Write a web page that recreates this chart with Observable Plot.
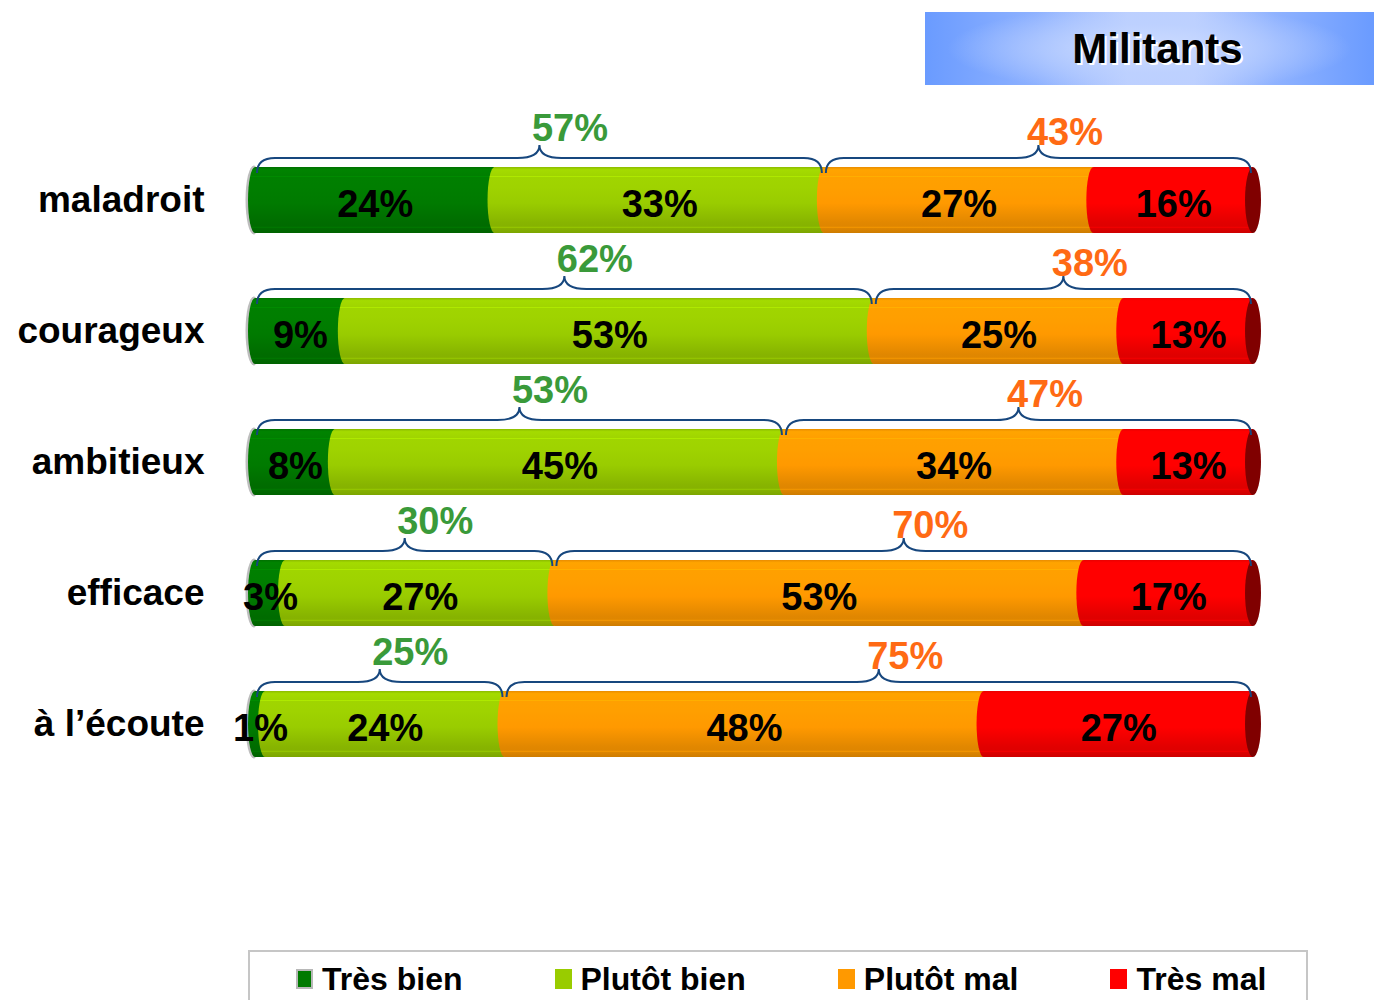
<!DOCTYPE html>
<html>
<head>
<meta charset="utf-8">
<script src="https://cdn.jsdelivr.net/npm/d3@7"></script>
<script src="https://cdn.jsdelivr.net/npm/@observablehq/plot@0.6"></script>
<style>
  html, body { margin: 0; padding: 0; background: #fff; }
  body { width: 1374px; height: 1000px; overflow: hidden; font-family: "Liberation Sans", Arial, sans-serif; }
  #title { position: relative; height: 95px; }
  #title .box {
    position: absolute; left: 925px; top: 12px; width: 449px; height: 73px;
    background:
      radial-gradient(ellipse 45% 60% at 50% 50%, rgba(205,220,255,0.95) 0%, rgba(190,210,255,0.6) 55%, rgba(190,210,255,0) 100%),
      linear-gradient(to right, #6a9bff 0%, #8fb2ff 25%, #bccfff 45%, #bccfff 60%, #8fb2ff 78%, #6a9bff 100%);
    display: flex; align-items: center; justify-content: center;
  }
  #title .box span { font-size: 42px; font-weight: bold; color: #000; text-shadow: 2px 2px 0 #fff; margin-left: 16px; }
  #chart svg { display: block; }
  #legend { position: relative; height: 60px; }
  #legend .box {
    position: absolute; left: 248px; top: 5px; width: 1060px; height: 80px;
    border: 2px solid #c6c6c6; box-sizing: border-box;
    display: flex; align-items: flex-start; gap: 92px; padding-left: 46px; padding-top: 10px;
  }
  #legend .item { display: flex; align-items: center; font-size: 32px; font-weight: bold; color: #000; line-height: 34px; }
  #legend .sw { width: 17px; height: 20px; margin-right: 9px; box-sizing: border-box; }
</style>
</head>
<body>
<div id="title"><div class="box"><span>Militants</span></div></div>
<div id="chart"></div>
<div id="legend"><div class="box"></div></div>
<script>
// ---- data ----
const categories = ["maladroit", "courageux", "ambitieux", "efficace", "à l’écoute"];
const seriesNames = ["Très bien", "Plutôt bien", "Plutôt mal", "Très mal"];
const tresBien   = [24, 9, 8, 3, 1];
const plutotBien = [33, 53, 45, 27, 24];
const plutotMal  = [27, 25, 34, 53, 48];
const tresMal    = [16, 13, 13, 17, 27];
const totalBien  = [57, 62, 53, 30, 25];
const totalMal   = [43, 38, 47, 70, 75];

// ---- styles ----
const seriesColors = ["#007a00", "#99cc00", "#ff9900", "#ff0000"];
const capColor = "#800000";
const greenText = "#3a9a3a";
const orangeText = "#ff6a14";
const braceColor = "#17477e";

// ---- build stacked rows ----
const seriesValues = [tresBien, plutotBien, plutotMal, tresMal];
const rows = [];
const totals = [];
categories.forEach((cat, i) => {
  let acc = 0;
  seriesValues.forEach((vals, s) => {
    rows.push({cat, s, v: vals[i], x1: acc, x2: acc + vals[i]});
    acc += vals[i];
  });
  totals.push({cat, total: acc});
});
const groupLabels = [];
categories.forEach((cat, i) => {
  groupLabels.push({cat, kind: 0, x: totalBien[i] / 2, text: totalBien[i] + "%"});
  groupLabels.push({cat, kind: 1, x: totalBien[i] + totalMal[i] / 2, text: totalMal[i] + "%"});
});

const capHalf = 0.8; // half-width of the cylinder end cap, in percent units
const bulge = 0.7;    // half-width of the rounded segment start, in percent units

const marks = [];
// grey outline behind the left end of each cylinder
marks.push(Plot.barX(rows.filter(d => d.s === 0), {
  x1: d => d.x1 - bulge - 0.25, x2: d => d.x1 + bulge, y: "cat", inset: 0,
  insetTop: -1.5, insetBottom: -1.5, rx: 12, ry: 40, fill: "#bdbdbd"
}));
// segment bodies
seriesNames.forEach((name, s) => {
  marks.push(Plot.barX(rows.filter(d => d.s === s), {
    x1: "x1", x2: "x2", y: "cat", inset: 0, fill: `url(#grad${s})`
  }));
});
// rounded starts of each segment (cylinder look)
seriesNames.forEach((name, s) => {
  marks.push(Plot.barX(rows.filter(d => d.s === s), {
    x1: d => d.x1 - bulge, x2: d => d.x1 + bulge, y: "cat", inset: 0,
    rx: 10, ry: 40, fill: `url(#grad${s})`
  }));
});
// end caps
marks.push(Plot.barX(totals, {
  x1: d => d.total - capHalf, x2: d => d.total + capHalf, y: "cat", inset: 0,
  rx: 10, ry: 40, fill: capColor
}));
// braces (drawn through the plot's scales)
marks.push((index, scales) => {
  const g = d3.create("svg:g").attr("fill", "none").attr("stroke", braceColor).attr("stroke-width", 2);
  categories.forEach((cat, i) => {
    const top = scales.y(cat);
    const spans = [[0, totalBien[i]], [totalBien[i], totalBien[i] + totalMal[i]]];
    spans.forEach(([a, b]) => {
      const xa = scales.x(a) + 2, xb = scales.x(b) - 2, m = (xa + xb) / 2;
      const y0 = top + 6, ya = top - 9, yp = top - 22;
      const p = d3.path();
      p.moveTo(xa, y0);
      p.quadraticCurveTo(xa, ya, xa + 18, ya);
      p.lineTo(m - 22, ya);
      p.quadraticCurveTo(m, ya, m, yp);
      p.quadraticCurveTo(m, ya, m + 22, ya);
      p.lineTo(xb - 18, ya);
      p.quadraticCurveTo(xb, ya, xb, y0);
      g.append("path").attr("d", p.toString());
    });
  });
  return g.node();
});
// segment value labels
marks.push(Plot.text(rows, {
  x: d => (d.x1 + d.x2) / 2, y: "cat", text: d => d.v + "%",
  fontSize: 38, fontWeight: "bold", fill: "#000", dy: 4
}));
// group totals
marks.push(Plot.text(groupLabels.filter(d => d.kind === 0), {
  x: "x", y: "cat", text: "text", fontSize: 38, fontWeight: "bold", fill: greenText, dx: 30, dy: -72
}));
marks.push(Plot.text(groupLabels.filter(d => d.kind === 1), {
  x: "x", y: "cat", text: "text", fontSize: 38, fontWeight: "bold", fill: orangeText, dx: 26, dy: -68
}));

const svg = Plot.plot({
  width: 1374,
  height: 850,
  marginLeft: 255,
  marginRight: 121,
  marginTop: 0,
  marginBottom: 0,
  style: {fontFamily: "'Liberation Sans', Arial, sans-serif", fontSize: "37px", fontWeight: "bold", color: "#000", background: "#fff", overflow: "visible"},
  x: {domain: [0, 100], range: [255, 1253], axis: null},
  y: {domain: categories, range: [39.25, 694.25], paddingInner: 0.5, paddingOuter: 0.25, align: 0.5,
      tickSize: 0, tickPadding: 51, label: null},
  marks
});

// gradient definitions for the cylinder shading (with faint horizontal streaks)
const defs = d3.select(svg).insert("defs", ":first-child");
seriesColors.forEach((c, s) => {
  const base = d3.color(c);
  const grad = defs.append("linearGradient").attr("id", `grad${s}`)
    .attr("x1", 0).attr("y1", 0).attr("x2", 0).attr("y2", 1);
  const hi = base.brighter(0.45);
  const stops = [
    [0, base.darker(0.25)], [0.04, base.brighter(0.2)], [0.13, base.brighter(0.12)],
    [0.14, hi], [0.155, base.brighter(0.12)], [0.3, base.brighter(0.1)],
    [0.55, base], [0.85, base.darker(0.35)], [0.9, base.darker(0.38)],
    [0.91, base.brighter(0.1)], [0.925, base.darker(0.4)], [1, base.darker(0.6)]
  ];
  stops.forEach(([o, col]) => grad.append("stop").attr("offset", o).attr("stop-color", col.formatHex()));
});

document.getElementById("chart").appendChild(svg);

// legend
const legendBox = d3.select("#legend .box");
seriesNames.forEach((name, s) => {
  const item = legendBox.append("div").attr("class", "item");
  const sw = item.append("div").attr("class", "sw").style("background", seriesColors[s]);
  if (s === 0) sw.style("border", "2px solid #b8b8b8");
  item.append("span").text(name);
});
</script>
</body>
</html>
